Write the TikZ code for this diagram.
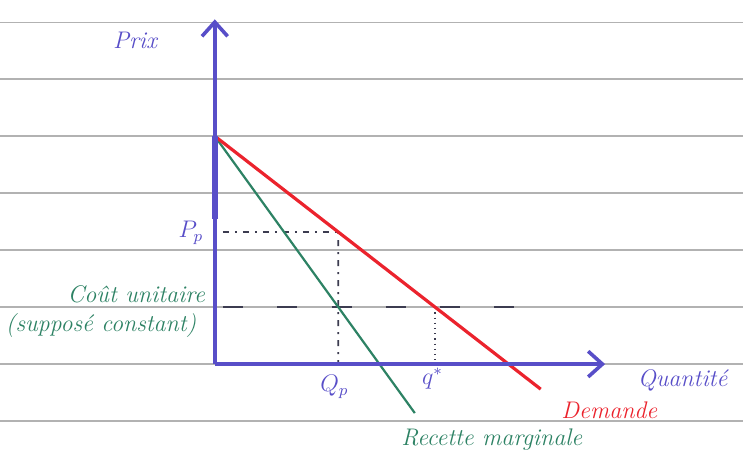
\documentclass[tikz,border=0pt]{standalone}
\usepackage{tikz}
\usetikzlibrary{arrows.meta}
\definecolor{inkblue}{RGB}{88,78,200}
\definecolor{inkred}{RGB}{235,35,45}
\definecolor{inkgreen}{RGB}{45,130,100}
\definecolor{inkdark}{RGB}{60,60,80}
\definecolor{paperline}{RGB}{178,178,178}

\begin{document}
\begin{tikzpicture}[font=\large\itshape]
    \useasboundingbox (-3.77,-1.79) rectangle (9.27,6.39);

    \coordinate (origin) at (0,0);
    \coordinate (ytop) at (0,6.05);
    \coordinate (xend) at (6.85,0);
    \coordinate (choke) at (0,4);
    \coordinate (demandend) at (5.72,-0.44);
    \coordinate (recetteend) at (3.51,-0.86);
    \coordinate (coutleft) at (0,1);
    \coordinate (coutright) at (5.25,1);

    \coordinate (qp) at (intersection of choke--recetteend and coutleft--coutright);
    \coordinate (qstar) at (intersection of choke--demandend and coutleft--coutright);
    \coordinate (qpaxis) at (qp |- origin);
    \coordinate (qstaraxis) at (qstar |- origin);
    \coordinate (pp) at (intersection of choke--demandend and qp--qpaxis);
    \coordinate (ppaxis) at (pp -| origin);

    \foreach \y in {-1,...,6} {
        \draw[paperline, line width=0.7pt] (-3.77,\y) -- (9.27,\y);
    }

    \draw[inkdark, line width=1pt, dash pattern=on 0.35cm off 0.6cm] (coutleft) ++(0.15,0) -- (coutright);
    \draw[inkdark, line width=0.8pt, dash pattern=on 1pt off 3pt on 3pt off 3pt] (ppaxis) -- (pp);
    \draw[inkdark, line width=0.8pt, dash pattern=on 1pt off 3pt on 3pt off 3pt] (pp) -- (qpaxis);
    \draw[inkdark, line width=0.6pt, dotted] (qstar) -- (qstaraxis);

    \draw[inkgreen, line width=1.1pt] (choke) -- (recetteend);
    \draw[inkred, line width=1.6pt] (choke) -- (demandend);

    \draw[inkblue, line width=1.8pt, -{Straight Barb[length=2.5mm,width=4.5mm]}] (origin) -- (ytop);
    \draw[inkblue, line width=1.8pt, -{Straight Barb[length=2.5mm,width=4.5mm]}] (origin) -- (xend);
    \draw[inkblue, line width=3pt] (choke) -- (0,2.55);

    \node[inkblue] (prix) at (-1.4,5.68) {Prix};
    \node[inkblue, anchor=west] (quantite) at (7.3,-0.28) {Quantité};
    \node[inkred, anchor=west] (demande) at (5.96,-0.81) {Demande};
    \node[inkgreen, anchor=west] (recette) at (3.15,-1.33) {Recette marginale};
    \node[inkgreen, anchor=east] (cout) at (-0.05,1.22) {Coût unitaire};
    \node[inkgreen, anchor=east] (suppose) at (-0.2,0.68) {(supposé constant)};
    \node[inkblue] (pplabel) at (-0.42,2.3) {$P_p$};
    \node[inkblue] (qplabel) at (2.1,-0.4) {$Q_p$};
    \node[inkblue] (qstarlabel) at (3.82,-0.25) {$q^*$};
\end{tikzpicture}
\end{document}
